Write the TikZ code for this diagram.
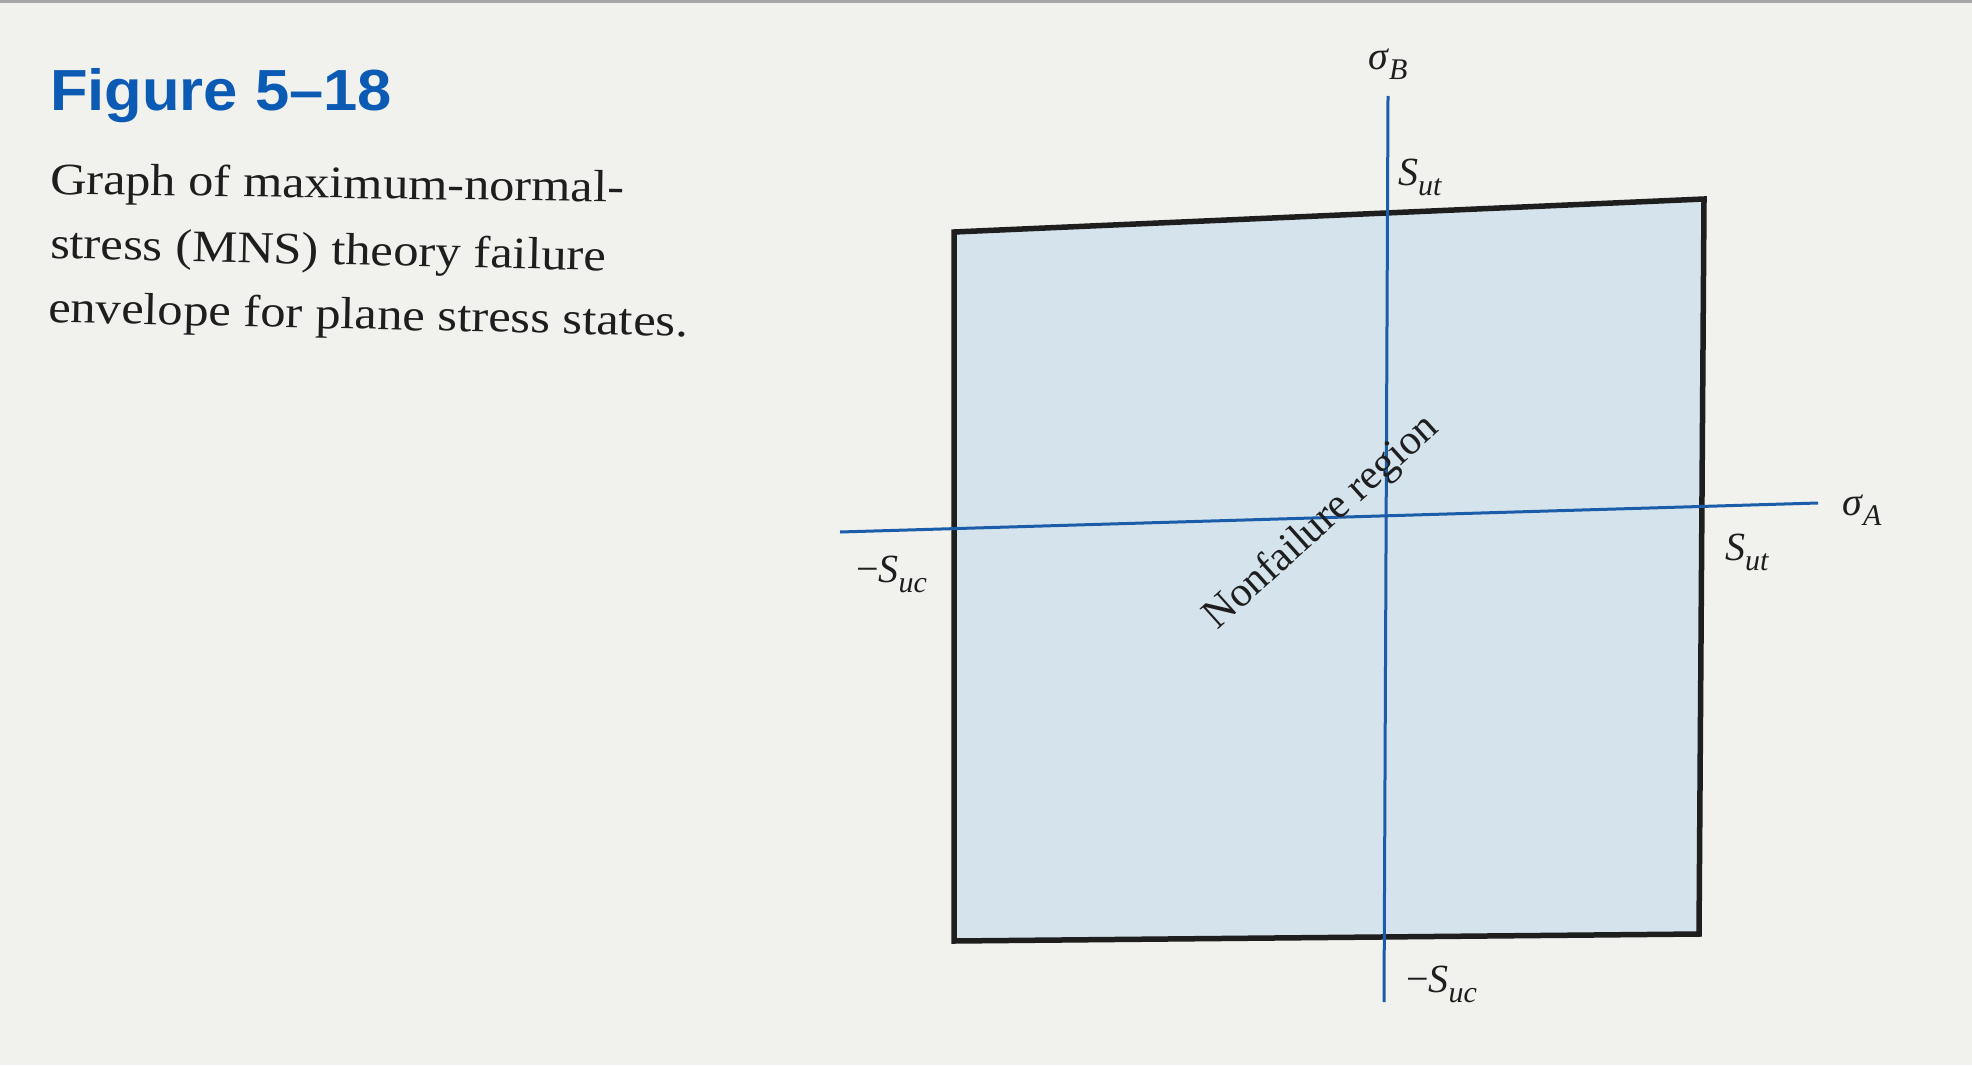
\documentclass[tikz,border=0pt]{standalone}
\usepackage{fontspec}
\usepackage{graphicx}
\setmainfont{Liberation Serif}
\newfontfamily\titlefont{Liberation Sans}
\definecolor{bgcol}{HTML}{F1F1EE}
\definecolor{boxfill}{HTML}{D5E3ED}
\definecolor{axisblue}{HTML}{1C5DAA}
\definecolor{titleblue}{HTML}{0B5BB5}
\definecolor{inkcol}{HTML}{1E1E1E}
\newcommand\symlab[2]{\textit{#1}\raisebox{-10pt}{\fontsize{30}{30}\selectfont\textit{#2}}}
\tikzset{
  every node/.style={inner sep=0pt,outer sep=0pt},
  envelope/.style={draw=inkcol,fill=boxfill,line width=5.5pt,line join=miter},
  axisline/.style={draw=axisblue,line width=3pt},
  captionline/.style={anchor=base west,text=inkcol,font=\fontsize{45}{45}\selectfont},
  axlabel/.style={anchor=base west,text=inkcol,font=\fontsize{40}{40}\selectfont},
  regionlabel/.style={text=inkcol,font=\fontsize{42}{42}\selectfont}
}
\begin{document}
\begin{tikzpicture}[x=1pt,y=-1pt]
\useasboundingbox (0,0) rectangle (1972,1065);
\fill[bgcol] (0,0) rectangle (1972,1065);
\fill[black!35] (0,0) rectangle (1972,3);

% caption
\node[anchor=base west,text=titleblue] (title) at (50,110)
  {\resizebox{342pt}{\height}{\titlefont\bfseries\fontsize{58}{58}\selectfont Figure 5–18}};
\node[captionline,rotate=-0.8] (cap1) at (50,194) {\resizebox{574pt}{\height}{Graph of maximum-normal-}};
\node[captionline,rotate=-1.3] (cap2) at (50,258) {\resizebox{556pt}{\height}{stress (MNS) theory failure}};
\node[captionline,rotate=-1.3] (cap3) at (48,322) {\resizebox{640pt}{\height}{envelope for plane stress states.}};

% envelope
\coordinate (TL) at (954,232);
\coordinate (TR) at (1704,199);
\coordinate (BR) at (1699,934);
\coordinate (BL) at (954,941);
\path[envelope] (TL) -- (TR) -- (BR) -- (BL) -- cycle;

% axes
\coordinate (xl) at (840,532);
\coordinate (xr) at (1818,503);
\coordinate (yt) at (1388,96);
\coordinate (yb) at (1384,1002);
\draw[axisline] (xl) -- (xr);
\draw[axisline] (yt) -- (yb);

% labels
\node[axlabel] (sigB) at (1368,70) {\symlab{σ}{B}};
\node[axlabel] (sutTop) at (1398,185) {\symlab{S}{ut}};
\node[axlabel] (sigA) at (1842,515) {\symlab{σ}{A}};
\node[axlabel] (sutRight) at (1725,560) {\symlab{S}{ut}};
\node[axlabel] (sucLeft) at (856,582) {−\symlab{S}{uc}};
\node[axlabel] (sucBottom) at (1406,992) {−\symlab{S}{uc}};
\node[regionlabel,rotate=42] (region) at (1322,523) {Nonfailure region};
\end{tikzpicture}
\end{document}
